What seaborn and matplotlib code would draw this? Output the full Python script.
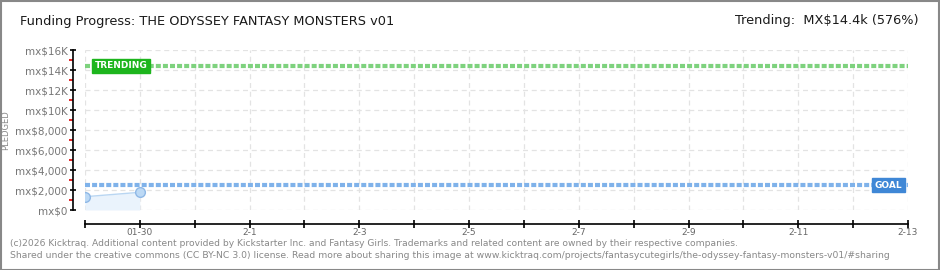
import matplotlib
matplotlib.use("Agg")
import matplotlib.pyplot as plt
import seaborn as sns
import pandas as pd
import numpy as np
from matplotlib.patches import Rectangle

# ---- data ----
dates = ["2026-01-29", "2026-01-30"]
pledged = [1330, 1770]
goal = 2500
trending = 14400
x_start = "2026-01-29"
x_end = "2026-02-13"
y_ticks = [0, 2000, 4000, 6000, 8000, 10000, 12000, 14000, 16000]
y_labels = ["mx$0", "mx$2,000", "mx$4,000", "mx$6,000", "mx$8,000",
            "mx$10K", "mx$12K", "mx$14K", "mx$16K"]
x_label_dates = ["2026-01-30", "2026-02-01", "2026-02-03", "2026-02-05", "2026-02-07",
                 "2026-02-09", "2026-02-11", "2026-02-13"]
x_labels = ["01-30", "2-1", "2-3", "2-5", "2-7", "2-9", "2-11", "2-13"]
title = "Funding Progress: THE ODYSSEY FANTASY MONSTERS v01"
trend_text = "Trending:  MX$14.4k (576%)"
footer1 = "(c)2026 Kicktraq. Additional content provided by Kickstarter Inc. and Fantasy Girls. Trademarks and related content are owned by their respective companies."
footer2 = "Shared under the creative commons (CC BY-NC 3.0) license. Read more about sharing this image at www.kicktraq.com/projects/fantasycutegirls/the-odyssey-fantasy-monsters-v01/#sharing"

sns.set_theme(style="white")
plt.rcParams['font.family'] = ['DejaVu Sans']

df = pd.DataFrame({"date": pd.to_datetime(dates), "pledged": pledged})
x0 = pd.Timestamp(x_start)
df["day"] = (df["date"] - x0).dt.days
x_end_day = (pd.Timestamp(x_end) - x0).days

fig = plt.figure(figsize=(9.4, 2.7), dpi=100)
W, H = 940, 270
ax = fig.add_axes([85 / W, (H - 210) / H, (908 - 85) / W, 160 / H])
ax.set_facecolor("white")

# grid
for d in range(0, x_end_day + 1):
    ax.axvline(d, color="#e3e3e3", lw=0.9, ls=(0, (4, 3)), zorder=0)
for yv in y_ticks:
    ax.axhline(yv, color="#e3e3e3", lw=0.9, ls=(0, (4, 3)), zorder=0)

# area + line
ax.fill_between(df["day"], 0, df["pledged"], color="#eaf3fc", zorder=1, lw=0)
sns.lineplot(data=df, x="day", y="pledged", ax=ax, color="#b9d6f2", lw=1,
             marker="o", markersize=7, markerfacecolor="#bcd9f5",
             markeredgecolor="#8fb8e6", markeredgewidth=1, zorder=3)

# goal and trending lines
ax.axhline(goal, color="#7fb2ea", lw=3, ls=(0, (1.2, 0.5)), zorder=2)
ax.axhline(trending, color="#7ed27e", lw=3, ls=(0, (1.2, 0.5)), zorder=2)

ax.set_xlim(0, x_end_day)
ax.set_ylim(0, 16000)

# labels for lines
ax.text(0.18, trending, "TRENDING", color="white", fontsize=6.5, fontweight="bold",
        va="center", ha="left", zorder=5,
        bbox=dict(boxstyle="square,pad=0.3", fc="#1db51d", ec="#1db51d"))
ax.text(x_end_day - 0.1, goal, "GOAL", color="white", fontsize=6.5, fontweight="bold",
        va="center", ha="right", zorder=5,
        bbox=dict(boxstyle="square,pad=0.3", fc="#3f87d6", ec="#3f87d6"))

# spines
for s in ["top", "right"]:
    ax.spines[s].set_visible(False)
ax.spines["left"].set_position(("outward", 9))
ax.spines["bottom"].set_position(("outward", 10))
ax.spines["left"].set_color("black")
ax.spines["bottom"].set_color("black")
ax.spines["left"].set_linewidth(1.2)
ax.spines["bottom"].set_linewidth(1.2)

ax.set_yticks(y_ticks)
ax.set_yticklabels(y_labels)
ax.set_yticks([1000, 3000, 5000, 7000, 9000, 11000, 13000, 15000], minor=True)
xt = [(pd.Timestamp(d) - x0).days for d in x_label_dates]
ax.set_xticks(xt)
ax.set_xticklabels(x_labels)
ax.set_xticks(list(range(0, x_end_day + 1)), minor=True)

ax.tick_params(axis="y", which="major", direction="inout", length=5, width=1.2,
               color="black", labelsize=7.5, labelcolor="#777777", pad=1, left=True)
ax.tick_params(axis="y", which="minor", direction="out", length=3, width=1.2,
               color="#dd0000", left=True)
ax.tick_params(axis="x", which="both", direction="inout", length=6, width=1.2,
               color="black", labelsize=6.5, labelcolor="#666666", pad=0, bottom=True)
ax.set_xlabel("")
ax.set_ylabel("")

fig.text(6 / W, 1 - 130 / H, "PLEDGED", rotation=90, fontsize=6, color="#888888",
         ha="center", va="center")

fig.text(20 / W, 1 - 22 / H, title, fontsize=9.3, color="#1a1a1a", ha="left", va="center")
fig.text(919 / W, 1 - 21 / H, trend_text, fontsize=9.3, color="#1a1a1a", ha="right", va="center")
fig.text(10 / W, 1 - 243 / H, footer1, fontsize=6.6, color="#888888", ha="left", va="center")
fig.text(10 / W, 1 - 256 / H, footer2, fontsize=6.7, color="#888888", ha="left", va="center")

# outer border
fig.patches.append(Rectangle((0.5 / W, 0.5 / H), 1 - 1.5 / W, 1 - 1.5 / H,
                             transform=fig.transFigure, fill=False,
                             ec="#888888", lw=1.5))

fig.savefig("out.png", dpi=100, facecolor="white")
